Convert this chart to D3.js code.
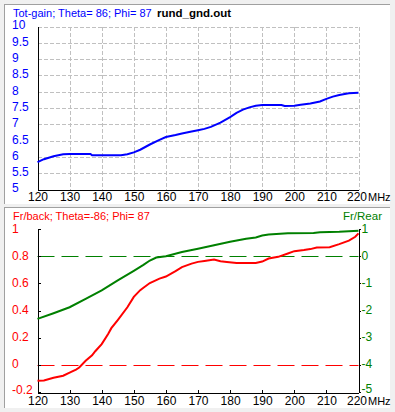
<!DOCTYPE html>
<html lang="en">
<head>
<meta charset="UTF-8" />
<script src="https://d3js.org/d3.v7.min.js"></script>
<style>
  body { margin: 0; background: #f0f0f0; }
  svg { display: block; font-family: "Liberation Sans", Arial, sans-serif; }
  .grid line { stroke: #c0c0c0; stroke-dasharray: 4,2; shape-rendering: crispEdges; }
  .axis path, .axis line { shape-rendering: crispEdges; }
</style>
</head>
<body>
<svg id="chart" width="395" height="412"></svg>
<script>
// Data (MHz / value)
const gainFreq = [120,122,125,128,130,133,136.5,137,140,143,146,148,150,152,155,158,160,163,165,168,170,172,174,177,180,182,184,186,188,190,193,196,197,200,202,205,208,210,212,214,217,220];
const gainVal  = [5.84,5.93,6.02,6.08,6.09,6.09,6.09,6.05,6.05,6.05,6.05,6.08,6.14,6.22,6.38,6.52,6.61,6.67,6.72,6.78,6.82,6.86,6.92,7.05,7.22,7.35,7.45,7.52,7.57,7.59,7.59,7.59,7.56,7.57,7.6,7.64,7.7,7.78,7.85,7.9,7.95,7.97];

const fbFreq = [120,122,125,128,130,132,133,135,137,138,140,142,143,145,148,150,152,153,155,158,160,163,165,168,170,172,175,177,179,182,185,188,190,192,195,198,200,203,205,207,211,214,217,219,220];
const fbVal  = [-0.118,-0.115,-0.095,-0.08,-0.057,-0.035,-0.02,0.03,0.07,0.1,0.153,0.227,0.27,0.33,0.424,0.5,0.55,0.568,0.602,0.635,0.65,0.69,0.72,0.745,0.758,0.765,0.775,0.762,0.757,0.75,0.75,0.75,0.76,0.783,0.795,0.82,0.837,0.845,0.852,0.864,0.866,0.889,0.914,0.943,0.968];

const frFreq = [120,125,130,135,140,145,150,153,155,157,160,165,170,175,180,185,188,190,192,198,206,208,214,220];
const frVal  = [-2.31,-2.1,-1.88,-1.57,-1.26,-0.89,-0.54,-0.32,-0.16,-0.05,0.0,0.15,0.27,0.4,0.53,0.64,0.69,0.76,0.8,0.84,0.85,0.88,0.9,0.94];

const freqTicks = [120,130,140,150,160,170,180,190,200,210,220];
const gainTicks = [5,5.5,6,6.5,7,7.5,8,8.5,9,9.5,10];
const fbTicks = [-0.2,0,0.2,0.4,0.6,0.8,1];
const frTicks = [-5,-4,-3,-2,-1,0,1];

const topTitle = "Tot-gain; Theta= 86; Phi= 87";
const fileName = "rund_gnd.out";
const botTitle = "Fr/back; Theta=-86; Phi= 87";
const rightTitle = "Fr/Rear";

const svg = d3.select("#chart");
const fmt = d => String(d);
const FONT = "Liberation Sans, Arial, sans-serif";

// panels
function panel(y0, y1) {
  svg.append("rect").attr("x", 4).attr("y", y0).attr("width", 386).attr("height", y1 - y0).attr("fill", "white");
  svg.append("line").attr("x1", 4).attr("x2", 390).attr("y1", y0 + 0.5).attr("y2", y0 + 0.5).attr("stroke", "#a0a0a0");
  svg.append("line").attr("x1", 4.5).attr("x2", 4.5).attr("y1", y0).attr("y2", y1).attr("stroke", "#a0a0a0");
}
panel(4, 204);
panel(207, 408);

// ---------- top panel ----------
const x1 = d3.scaleLinear().domain([120, 220]).range([37.5, 358.5]);
const yG = d3.scaleLinear().domain([5, 10]).range([189.5, 26.5]);
const gTop = svg.append("g");

gTop.append("g").attr("class", "grid")
  .selectAll("line").data(freqTicks.slice(1)).join("line")
  .attr("x1", d => Math.round(x1(d)) + 0.5).attr("x2", d => Math.round(x1(d)) + 0.5)
  .attr("y1", yG(10)).attr("y2", yG(5));
gTop.append("g").attr("class", "grid")
  .selectAll("line").data(gainTicks.slice(1)).join("line")
  .attr("x1", x1(120)).attr("x2", x1(220))
  .attr("y1", d => Math.round(yG(d)) + 0.5).attr("y2", d => Math.round(yG(d)) + 0.5);

const yAxisTop = gTop.append("g").attr("class", "axis").attr("transform", `translate(${x1(120)},0)`)
  .call(d3.axisLeft(yG).tickValues(gainTicks).tickFormat(fmt).tickSize(0));
yAxisTop.select(".domain").attr("stroke", "black");
yAxisTop.selectAll("text").attr("x", 12 - 37.5).attr("text-anchor", "start").attr("dy", "0.2em")
  .attr("fill", "#0000ff").attr("font-size", 12).attr("font-family", FONT);

const xAxisTop = gTop.append("g").attr("class", "axis").attr("transform", `translate(0,${yG(5)})`)
  .call(d3.axisBottom(x1).tickValues(freqTicks).tickFormat(fmt).tickSize(0).tickPadding(3));
xAxisTop.select(".domain").attr("stroke", "black");
xAxisTop.selectAll("text").attr("fill", "black").attr("font-size", 12).attr("font-family", FONT)
  .attr("dx", d => d === 220 ? -2 : 0);

gTop.append("text").attr("x", 368).attr("y", 200.5).attr("font-size", 11).attr("font-family", FONT).text("MHz");
gTop.append("text").attr("x", 13).attr("y", 16.5).attr("font-size", 11).attr("fill", "#0000ff").text(topTitle);
gTop.append("text").attr("x", 157).attr("y", 16.5).attr("font-size", 11.5).attr("font-weight", "bold").attr("fill", "black").text(fileName);

const gainLine = d3.line().x(d => x1(d[0])).y(d => yG(d[1]));
gTop.append("path").datum(d3.zip(gainFreq, gainVal))
  .attr("d", gainLine).attr("fill", "none").attr("stroke", "#0000ff").attr("stroke-width", 2);

// ---------- bottom panel ----------
const yL = d3.scaleLinear().domain([-0.2, 1]).range([392, 229]);
const yR = d3.scaleLinear().domain([-5, 1]).range([392, 229]);
const gBot = svg.append("g");

gBot.append("line").attr("x1", x1(120)).attr("x2", x1(220))
  .attr("y1", Math.round(yR(0)) + 0.5).attr("y2", Math.round(yR(0)) + 0.5)
  .attr("stroke", "#008000").attr("stroke-dasharray", "17,7");
gBot.append("line").attr("x1", x1(120)).attr("x2", x1(220))
  .attr("y1", Math.round(yL(0)) + 0.5).attr("y2", Math.round(yL(0)) + 0.5)
  .attr("stroke", "#ff0000").attr("stroke-dasharray", "17,7");

const yAxisL = gBot.append("g").attr("class", "axis").attr("transform", `translate(${x1(120)},0)`)
  .call(d3.axisLeft(yL).tickValues(fbTicks).tickFormat(fmt).tickSizeInner(-3).tickSizeOuter(0));
yAxisL.select(".domain").attr("stroke", "black");
yAxisL.selectAll("text").attr("x", 12 - 37.5).attr("text-anchor", "start")
  .attr("dy", d => d === -0.2 ? "0.1em" : "0.25em")
  .attr("fill", "#ff0000").attr("font-size", 12).attr("font-family", FONT);

const yAxisR = gBot.append("g").attr("class", "axis").attr("transform", `translate(${x1(220)},0)`)
  .call(d3.axisRight(yR).tickValues(frTicks).tickFormat(fmt).tickSizeInner(2).tickSizeOuter(0));
yAxisR.select(".domain").attr("stroke", "black");
yAxisR.selectAll("text").attr("x", 3)
  .attr("dy", d => d === -5 ? "0.05em" : "0.25em")
  .attr("fill", "#008000").attr("font-size", 12).attr("font-family", FONT);

const xAxisB = gBot.append("g").attr("class", "axis").attr("transform", `translate(0,${yL(-0.2) + 0.5})`)
  .call(d3.axisBottom(x1).tickValues(freqTicks).tickFormat(fmt).tickSizeInner(-3).tickSizeOuter(0).tickPadding(3.5));
xAxisB.select(".domain").attr("stroke", "black");
xAxisB.selectAll("text").attr("fill", "black").attr("font-size", 12).attr("font-family", FONT)
  .attr("dx", d => d === 220 ? -2 : 0);

gBot.append("text").attr("x", 368).attr("y", 405).attr("font-size", 11).attr("font-family", FONT).text("MHz");
gBot.append("text").attr("x", 13).attr("y", 220).attr("font-size", 11).attr("fill", "#ff0000").text(botTitle);
gBot.append("text").attr("x", 343).attr("y", 220).attr("font-size", 11.5).attr("fill", "#008000").text(rightTitle);

gBot.append("path").datum(d3.zip(frFreq, frVal))
  .attr("d", d3.line().x(d => x1(d[0])).y(d => yR(d[1])))
  .attr("fill", "none").attr("stroke", "#008000").attr("stroke-width", 2);
gBot.append("path").datum(d3.zip(fbFreq, fbVal))
  .attr("d", d3.line().x(d => x1(d[0])).y(d => yL(d[1])))
  .attr("fill", "none").attr("stroke", "#ff0000").attr("stroke-width", 2);
</script>
</body>
</html>
